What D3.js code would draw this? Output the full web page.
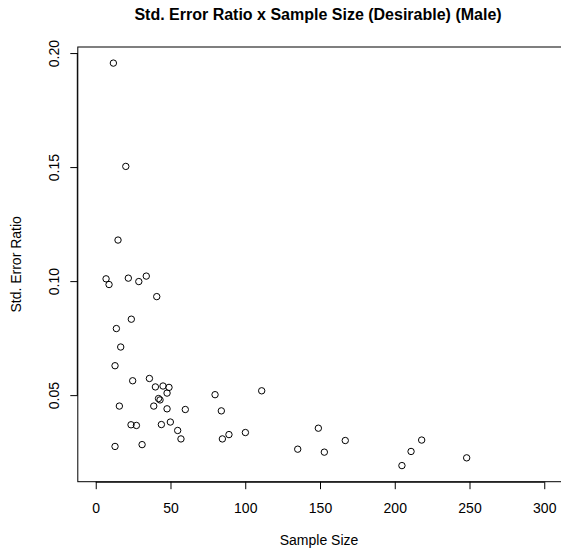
<!DOCTYPE html>
<html>
<head>
<meta charset="utf-8">
<script src="https://cdn.jsdelivr.net/npm/d3@7"></script>
<style>
  body { margin: 0; background: #fff; }
  svg { font-family: "Liberation Sans", Arial, sans-serif; }
</style>
</head>
<body>
<script>
const w = 561;
const h = 553;

// sample size per point
const sampleSize = [
  11.8, 20.1, 14.9, 6.9, 8.9, 21.8, 28.8, 33.8, 40.8, 23.8,
  13.8, 16.7, 12.9, 24.7, 35.9, 39.9, 45.0, 49.0, 47.7, 42.0,
  43.0, 38.8, 47.7, 59.9, 79.8, 84.0, 111.0, 15.8, 23.6, 27.2,
  43.9, 49.9, 54.8, 57.0, 12.9, 31.0, 84.7, 89.1, 100.1, 135.1,
  148.9, 152.9, 166.9, 204.8, 210.9, 218.0, 248.1
];
// std. error ratio per point
const errorRatio = [
  0.1956, 0.1503, 0.1180, 0.1010, 0.0985, 0.1013, 0.0998, 0.1022, 0.0932, 0.0833,
  0.0792, 0.0711, 0.0629, 0.0563, 0.0573, 0.0536, 0.0540, 0.0534, 0.0509, 0.0485,
  0.0479, 0.0452, 0.0440, 0.0437, 0.0502, 0.0431, 0.0519, 0.0452, 0.0370, 0.0367,
  0.0371, 0.0382, 0.0345, 0.0308, 0.0275, 0.0283, 0.0308, 0.0327, 0.0336, 0.0263,
  0.0355, 0.0250, 0.0301, 0.0191, 0.0253, 0.0303, 0.0225
];
const xTicks = [0, 50, 100, 150, 200, 250, 300];
const yTicks = [0.05, 0.10, 0.15, 0.20];

const data = sampleSize.map((s, i) => ({ n: s, r: errorRatio[i] }));

const plotL = 77.8, plotR = 562.2, plotT = 47, plotB = 481.7;

// R style 4% padding
const xlim = [0, 300];
const xpad = (xlim[1] - xlim[0]) * 0.04;
const xScale = d3.scaleLinear()
  .domain([xlim[0] - xpad, xlim[1] + xpad])
  .range([plotL, plotR]);

const yExt = d3.extent(errorRatio);
const ypad = (yExt[1] - yExt[0]) * 0.04;
const yScale = d3.scaleLinear()
  .domain([yExt[0] - ypad, yExt[1] + ypad])
  .range([plotB, plotT]);

const svg = d3.select("body")
  .append("svg")
  .attr("width", w)
  .attr("height", h);

// BOX
svg.append("rect")
  .attr("x", plotL)
  .attr("y", plotT)
  .attr("width", plotR - plotL)
  .attr("height", plotB - plotT)
  .attr("fill", "none")
  .attr("stroke", "#000")
  .attr("stroke-width", 1);

// POINTS
svg.append("g")
  .selectAll("circle")
  .data(data)
  .join("circle")
  .attr("cx", d => xScale(d.n))
  .attr("cy", d => yScale(d.r))
  .attr("r", 3.2)
  .attr("fill", "none")
  .attr("stroke", "#000")
  .attr("stroke-width", 1);

// AXES
const xAxis = svg.append("g")
  .attr("transform", `translate(0, ${plotB})`)
  .call(d3.axisBottom(xScale).tickValues(xTicks).tickSize(7.5).tickPadding(14).tickFormat(d3.format("d")));
xAxis.select(".domain")
  .attr("d", `M${xScale(xTicks[0])},0.5H${xScale(xTicks[xTicks.length - 1])}`);

const yAxis = svg.append("g")
  .attr("transform", `translate(${plotL}, 0)`)
  .call(d3.axisLeft(yScale).tickValues(yTicks).tickSize(7.5).tickPadding(0).tickFormat(d3.format(".2f")));
yAxis.select(".domain")
  .attr("d", `M-0.5,${yScale(yTicks[0])}V${yScale(yTicks[yTicks.length - 1])}`);

svg.selectAll(".tick text")
  .attr("font-size", 14)
  .attr("font-family", "Liberation Sans, Arial, sans-serif")
  .attr("fill", "#000");

yAxis.selectAll(".tick text")
  .attr("text-anchor", "middle")
  .attr("x", 0)
  .attr("dy", 0)
  .attr("transform", "translate(-19, 0) rotate(-90)");

// TITLES
svg.append("text")
  .attr("x", 318)
  .attr("y", 19.5)
  .attr("text-anchor", "middle")
  .attr("font-size", 16)
  .attr("font-weight", "bold")
  .text("Std. Error Ratio x Sample Size (Desirable) (Male)");

svg.append("text")
  .attr("x", 319)
  .attr("y", 545)
  .attr("text-anchor", "middle")
  .attr("font-size", 14)
  .text("Sample Size");

svg.append("text")
  .attr("transform", `translate(21, ${(plotT + plotB) / 2}) rotate(-90)`)
  .attr("text-anchor", "middle")
  .attr("font-size", 14)
  .text("Std. Error Ratio");
</script>
</body>
</html>
